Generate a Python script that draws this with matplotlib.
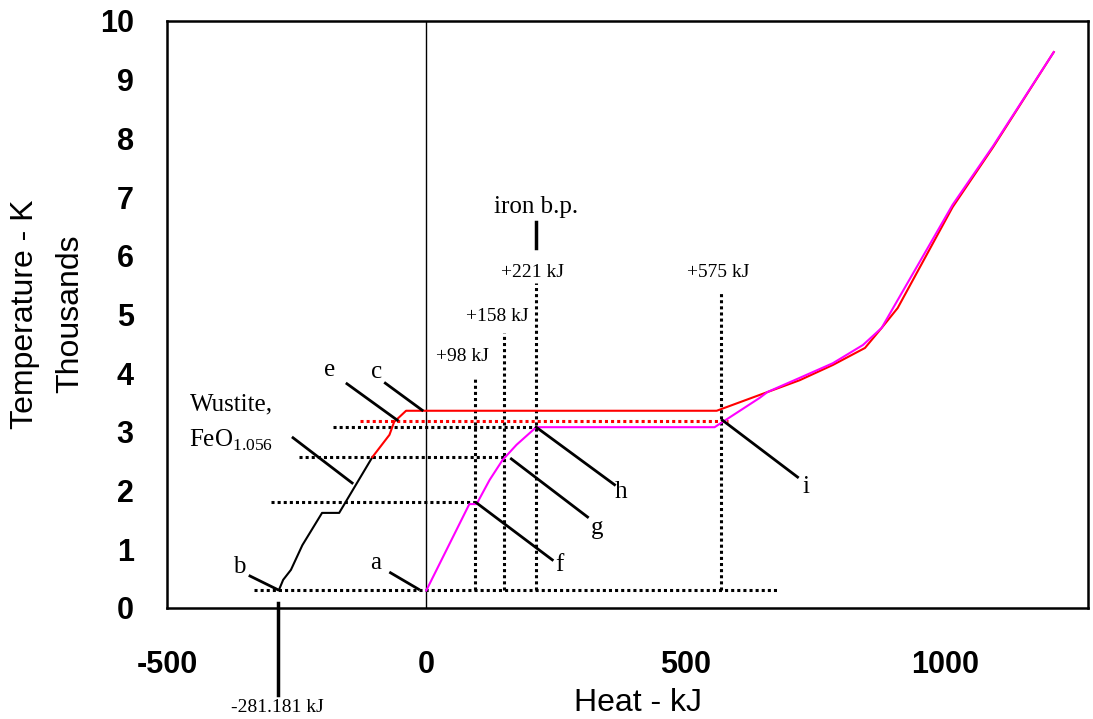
import matplotlib.pyplot as plt

plt.rcParams['axes.unicode_minus'] = False

# wustite heating curve (black part, then red part), x in kJ, y in thousands of K
wus_black_x = [-284, -276, -261, -239, -201, -168, -104]
wus_black_y = [0.31, 0.48, 0.65, 1.07, 1.62, 1.62, 2.57]
wus_red_x = [-104, -71, -62, -39, 560, 643, 720, 784, 846, 878, 909, 1015, 1093, 1210]
wus_red_y = [2.57, 2.95, 3.17, 3.36, 3.36, 3.63, 3.88, 4.14, 4.43, 4.77, 5.11, 6.83, 7.85, 9.47]

# iron curve (magenta)
iron_x = [0, 83, 97, 122, 147, 174, 212, 556, 643, 658, 720, 784, 842, 878, 1015, 1093, 1210]
iron_y = [0.298, 1.77, 1.77, 2.18, 2.52, 2.78, 3.08, 3.08, 3.58, 3.68, 3.92, 4.17, 4.48, 4.77, 6.87, 7.87, 9.47]

# dotted guide lines
h_dot_y = [0.298, 1.81, 2.57, 3.08]
h_dot_x0 = [-332, -299, -245, -180]
h_dot_x1 = [678, 97, 150, 212]
red_dot = (-127, 581, 3.19)
v_dot_x = [93, 149, 212, 569]
v_dot_top = [3.92, 4.68, 5.54, 5.38]
v_labels = ["+98 kJ", "+158 kJ", "+221 kJ", "+575 kJ"]
v_label_pos = [(69, 4.28), (137, 4.97), (205, 5.72), (562, 5.72)]

# leader lines: (x0, y0, x1, y1, label, label x, label y)
leaders = [
    (-340, 0.545, -286, 0.31, "b", -361, 0.70),
    (-69, 0.60, -15, 0.32, "a", -98, 0.77),
    (-153, 3.82, -56, 3.20, "e", -187, 4.05),
    (-79, 3.83, -8, 3.37, "c", -95, 4.02),
    (-257, 2.90, -143, 2.13, None, 0, 0),
    (97, 1.79, 243, 0.82, "f", 257, 0.73),
    (164, 2.54, 311, 1.55, "g", 330, 1.36),
    (212, 3.08, 363, 2.10, "h", 376, 1.98),
    (571, 3.20, 716, 2.23, "i", 732, 2.06),
]

fig = plt.figure(figsize=(10.93, 7.19), dpi=100)
ax = fig.add_axes([0.1528, 0.1544, 0.8426, 0.8164])

serif = "Liberation Serif"
dot = (0, (1, 1))

for y, x0, x1 in zip(h_dot_y, h_dot_x0, h_dot_x1):
    ax.plot([x0, x1], [y, y], color="black", lw=2.2, linestyle=dot)
for x, top in zip(v_dot_x, v_dot_top):
    ax.plot([x, x], [h_dot_y[0], top], color="black", lw=2.2, linestyle=dot)
ax.plot([red_dot[0], red_dot[1]], [red_dot[2], red_dot[2]], color="red", lw=2.2, linestyle=dot)

ax.axvline(0, color="black", lw=1.0)

ax.plot(wus_black_x, wus_black_y, color="black", lw=1.5)
ax.plot(wus_red_x, wus_red_y, color="red", lw=1.5)
ax.plot(iron_x, iron_y, color="magenta", lw=1.5)

for x0, y0, x1, y1, lab, lx, ly in leaders:
    ax.plot([x0, x1], [y0, y1], color="black", lw=2)
    if lab:
        ax.text(lx, ly, lab, family=serif, fontsize=18, ha="center", va="center")

for lab, (lx, ly) in zip(v_labels, v_label_pos):
    ax.text(lx, ly, lab, family=serif, fontsize=14, ha="center", va="center")

ax.text(212, 6.83, "iron b.p.", family=serif, fontsize=18, ha="center", va="center")
ax.plot([212, 212], [6.13, 6.58], color="black", lw=2.5)

ax.text(-376, 3.46, "Wustite,", family=serif, fontsize=18, ha="center", va="center")
ax.text(-376, 2.86, r"FeO$_{\mathregular{1.056}}$", family=serif, fontsize=18, ha="center", va="center")

ax.plot([-286, -286], [0.085, -1.48], color="black", lw=2.5, clip_on=False)
ax.text(-288, -1.69, "-281.181 kJ", family=serif, fontsize=14, ha="center", va="center", clip_on=False)

ax.set_xlim(-500, 1276)
ax.set_ylim(0, 10)
ax.set_xticks([-500, 0, 500, 1000])
ax.set_yticks(range(0, 11))
ax.tick_params(length=0, labelsize=22, pad=0)
ax.tick_params(axis="x", pad=30)
ax.tick_params(axis="y", pad=24)
for t in ax.get_xticklabels() + ax.get_yticklabels():
    t.set_fontweight("bold")
    t.set_family("Liberation Sans")
for s in ax.spines.values():
    s.set_linewidth(1.8)

fig.text(638 / 1093, 1 - 703 / 719, "Heat - kJ", family="Liberation Sans", fontsize=23, ha="center", va="center")
fig.text(25 / 1093, 1 - 314 / 719, "Temperature - K", family="Liberation Sans", fontsize=23,
         ha="center", va="center", rotation=90)
fig.text(70 / 1093, 1 - 314 / 719, "Thousands", family="Liberation Sans", fontsize=23,
         ha="center", va="center", rotation=90)

fig.savefig("out.png", dpi=100)
